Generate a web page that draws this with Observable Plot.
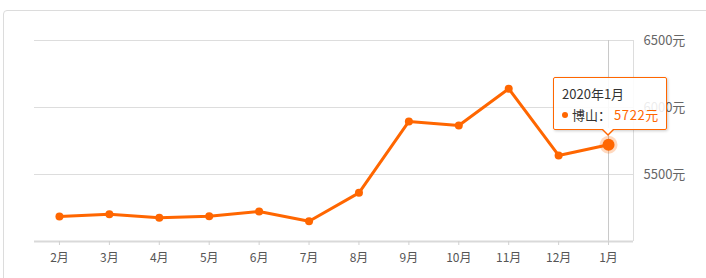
<!DOCTYPE html>
<html>
<head>
<meta charset="utf-8">
<script src="https://cdn.jsdelivr.net/npm/d3@7"></script>
<script src="https://cdn.jsdelivr.net/npm/@observablehq/plot@0.6"></script>
<style>
  html, body { margin: 0; padding: 0; background: #fff; overflow: hidden; }
  #wrap { position: relative; width: 706px; height: 278px; overflow: hidden; font-family: "Noto Sans CJK SC", "Microsoft YaHei", sans-serif; }
  #border { position: absolute; left: 3px; top: 10px; width: 800px; height: 400px; border: 1px solid #dcdcdc; border-radius: 4px; box-sizing: border-box; }
  #chart { position: absolute; left: 0; top: 0; }
  .tip { position: absolute; background: rgba(255,255,255,0.88); border: 1px solid #ff6600; border-radius: 2px; box-shadow: 1px 1px 3px rgba(0,0,0,0.2); font-size: 13px; color: #333; box-sizing: border-box; padding: 5px 8px; line-height: 21px; white-space: nowrap; }
  .tip .dot { display: inline-block; width: 6px; height: 6px; border-radius: 50%; background: #ff6600; margin-right: 4px; vertical-align: 2px; }
  .tip .val { color: #ff6600; margin-left: 3px; letter-spacing: 0.6px; }
  .arrow, .arrow2 { position: absolute; width: 0; height: 0; }
</style>
</head>
<body>
<div id="wrap"><div id="border"></div><div id="chart"></div></div>
<script>
const months = ["2月","3月","4月","5月","6月","7月","8月","9月","10月","11月","12月","1月"];
const prices = [5187, 5204, 5177, 5189, 5224, 5151, 5363, 5896, 5866, 6140, 5642, 5722];
const yTicks = [5500, 6000, 6500];
const seriesName = "博山";
const tipTitle = "2020年1月";
const highlightIndex = 11;

const data = months.map((m, i) => ({i, month: m, price: prices[i]}));
const hl = [data[highlightIndex]];
const orange = "#ff6600";

const plot = Plot.plot({
  width: 706,
  height: 278,
  marginLeft: 34,
  marginRight: 73,
  marginTop: 40,
  marginBottom: 37,
  style: {fontFamily: '"Noto Sans CJK SC", sans-serif', fontSize: "12px", background: "transparent", overflow: "visible"},
  x: {type: "linear", domain: [-0.5, months.length - 0.5]},
  y: {domain: [5000, 6500]},
  marks: [
    Plot.ruleY(yTicks, {stroke: "#dddddd", strokeWidth: 1}),
    Plot.ruleX([months.length - 0.5], {stroke: "#dddddd", strokeWidth: 1}),
    Plot.ruleX([highlightIndex], {stroke: "#c8c8c8", strokeWidth: 1}),
    Plot.ruleY([5000], {stroke: "#d9d9d9", strokeWidth: 2}),
    Plot.axisX({ticks: d3.range(months.length), tickFormat: i => months[i], tickSize: 4, tickPadding: 8, stroke: "#d0d0d0", fill: "#555", label: null}),
    Plot.axisY({anchor: "right", ticks: yTicks, tickFormat: d => d + "元", tickSize: 0, tickPadding: 10, fill: "#666", fontSize: 13, label: null}),
    Plot.line(data, {x: "i", y: "price", stroke: orange, strokeWidth: 3, strokeLinejoin: "round"}),
    Plot.dot(data, {x: "i", y: "price", r: 4, fill: orange, stroke: "none"}),
    Plot.dot(hl, {x: "i", y: "price", r: 9, fill: orange, fillOpacity: 0.25, stroke: "none"}),
    Plot.dot(hl, {x: "i", y: "price", r: 6, fill: orange, stroke: "none"})
  ]
});
document.getElementById("chart").appendChild(plot);

// tooltip positioned through the plot's own scales
const px = plot.scale("x").apply(highlightIndex);
const py = plot.scale("y").apply(prices[highlightIndex]);
const wrap = document.getElementById("wrap");
const tip = document.createElement("div");
tip.className = "tip";
tip.innerHTML = `<div>${tipTitle}</div><div><span class="dot"></span>${seriesName}：<span class="val">${prices[highlightIndex]}元</span></div>`;
const tw = 114, th = 53;
tip.style.width = tw + "px";
tip.style.height = th + "px";
tip.style.left = (px - tw / 2 + 2) + "px";
tip.style.top = (py - 15 - th + 1) + "px";
wrap.appendChild(tip);
const a1 = document.createElement("div");
a1.className = "arrow";
a1.style.left = (px - 7) + "px";
a1.style.top = (py - 15) + "px";
a1.style.borderLeft = "7px solid transparent";
a1.style.borderRight = "7px solid transparent";
a1.style.borderTop = "7px solid " + orange;
wrap.appendChild(a1);
const a2 = document.createElement("div");
a2.className = "arrow2";
a2.style.left = (px - 6) + "px";
a2.style.top = (py - 16) + "px";
a2.style.borderLeft = "6px solid transparent";
a2.style.borderRight = "6px solid transparent";
a2.style.borderTop = "6px solid #fff";
wrap.appendChild(a2);
</script>
</body>
</html>
